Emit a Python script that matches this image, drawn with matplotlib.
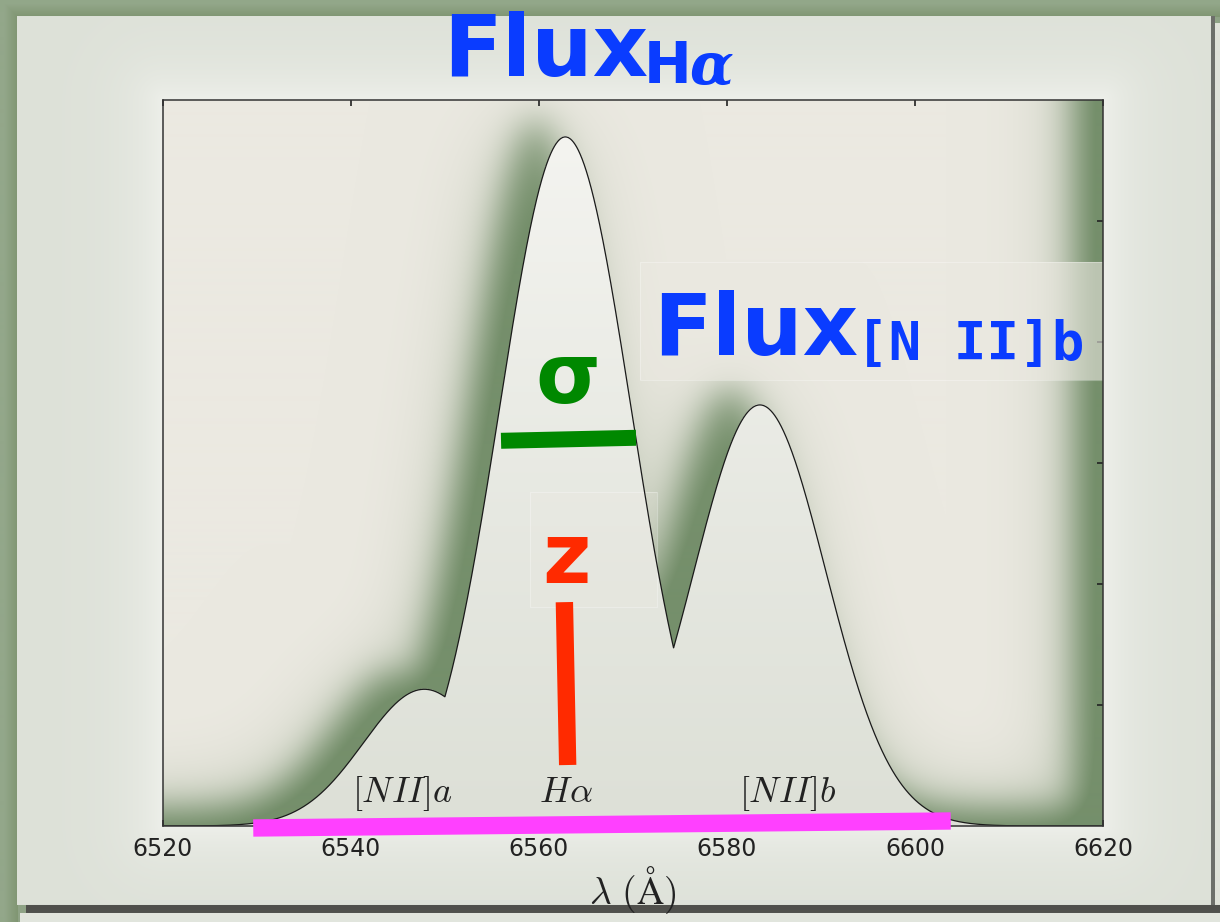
import numpy as np
import matplotlib
matplotlib.use("Agg")
import matplotlib.pyplot as plt
from matplotlib.patches import Rectangle

plt.rcParams["mathtext.fontset"] = "cm"

# emission lines in the window: [NII]a, H-alpha, [NII]b
LINE_NAMES = [r"$[NII]a$", r"$H\alpha$", r"$[NII]b$"]
LINE_CENTERS = [6547.8, 6562.8, 6583.5]
LINE_AMPS = [0.226, 1.139, 0.696]
LINE_SIGMAS = [6.5, 7.0, 7.0]
LABEL_X = [6545.5, 6562.9, 6586.5]
LABEL_Y = 0.04

WAVE_MIN, WAVE_MAX = 6520, 6620
X_TICKS = [6520, 6540, 6560, 6580, 6600, 6620]
Y_MAX = 1.2
Y_TICKS = [0.2, 0.4, 0.6, 0.8, 1.0]

# annotation bars: sigma (width), z (line position), wavelength span
SIGMA_BAR_X = [6555.96, 6570.32]
SIGMA_BAR_Y = [0.6367, 0.6417]
Z_BAR_X = [6562.7, 6563.05]
Z_BAR_Y = [0.370, 0.1008]
SPAN_BAR_X = [6529.6, 6603.8]
SPAN_BAR_Y = [-0.0033, 0.0083]

W, H = 1220, 922
AX_L, AX_R, AX_T, AX_B = 163, 1103, 100, 826

BLUE = "#0a3cff"
GREEN = "#008800"
RED = "#ff2a00"
MAGENTA = "#ff40ff"
INK = "#222222"


def rgb(h):
    h = h.lstrip("#")
    return np.array([int(h[i:i + 2], 16) for i in (0, 2, 4)]) / 255.0


def blur(a, s):
    r = int(3 * s)
    k = np.exp(-0.5 * (np.arange(-r, r + 1) / s) ** 2)
    k /= k.sum()
    a = np.apply_along_axis(lambda v: np.convolve(v, k, mode="same"), 0, a)
    a = np.apply_along_axis(lambda v: np.convolve(v, k, mode="same"), 1, a)
    return a


def profile(x):
    comps = [a * np.exp(-0.5 * ((x - c) / s) ** 2)
             for c, a, s in zip(LINE_CENTERS, LINE_AMPS, LINE_SIGMAS)]
    return np.max(comps, axis=0)


def mix(c0, c1, t):
    t = t[..., None]
    return c0 * (1 - t) + c1 * t


def px_to_ax(px, py):
    return (px - AX_L) / (AX_R - AX_L), (AX_B - py) / (AX_B - AX_T)


fig = plt.figure(figsize=(W / 100, H / 100), dpi=100)

# ---- paper frame behind everything
yy, xx = np.mgrid[0:H, 0:W].astype(float)
bg = np.ones((H, W, 3)) * rgb("#8fa386")
edge = (xx < 18) | (yy < 18)
bg[edge] = mix(rgb("#93a78a"), rgb("#7f9571"), np.clip((np.minimum(xx, yy) - 4) / 14, 0, 1))[edge]
paper = (xx >= 17) & (xx <= 1210) & (yy >= 17) & (yy <= 904)
dx = np.maximum.reduce([AX_L - xx, np.zeros_like(xx), xx - AX_R])
dy = np.maximum.reduce([AX_T - yy, np.zeros_like(yy), yy - AX_B])
glow = 0.75 * np.exp(-np.hypot(dx, dy) / 35.0)
frame = mix(np.broadcast_to(rgb("#dde1d8"), (H, W, 3)), rgb("#f3f4f0"), glow)
bg[paper] = frame[paper]
right_edge = (xx > 1210) & (xx <= 1214) & (yy >= 17) & (yy <= 908)
bg[right_edge] = rgb("#6d6f6a")
bg[(xx > 1214) & (yy >= 24)] = rgb("#dfe2d9")
bottom = (yy > 904) & (yy <= 912) & (xx >= 26)
bg[bottom] = rgb("#50514d")
bg[(yy > 912) & (xx >= 20)] = rgb("#e2e5dd")

bg_ax = fig.add_axes([0, 0, 1, 1], zorder=-1)
bg_ax.imshow(bg, extent=(0, W, H, 0), aspect="auto", interpolation="bilinear")
bg_ax.set_axis_off()

# ---- spectrum panel
ax = fig.add_axes([AX_L / W, 1 - AX_B / H, (AX_R - AX_L) / W, (AX_B - AX_T) / H])
ax.set_xlim(WAVE_MIN, WAVE_MAX)
ax.set_ylim(0, Y_MAX)

nx, ny = AX_R - AX_L, AX_B - AX_T
gx = WAVE_MIN + (np.arange(nx) + 0.5) / nx * (WAVE_MAX - WAVE_MIN)
gy = (np.arange(ny) + 0.5) / ny * Y_MAX
prof = profile(gx)
under = gy[:, None] < prof[None, :]

# raised region (under the curve, right of and below the frame) casts a soft shadow
P = 160
solid = np.zeros((ny + 2 * P, nx + 2 * P))
solid[P:P + ny, P:P + nx] = under
solid[:, P + nx:] = 1.0
solid[:P, :] = 1.0
solid = np.roll(solid, -30, axis=1)
solid = np.roll(solid, 18, axis=0)
shade = 0.75 * blur(solid, 17) + 0.45 * blur(solid, 42)
shade = np.clip(shade[P:P + ny, P:P + nx], 0, 1)

paper_col = np.broadcast_to(rgb("#ebe9e1"), (ny, nx, 3))
img = mix(paper_col, rgb("#758f6b"), shade)
t = np.clip(np.broadcast_to(gy[:, None] / 1.14, (ny, nx)), 0, 1)
inner = mix(np.broadcast_to(rgb("#dde0d7"), (ny, nx, 3)), rgb("#f4f4f0"), t ** 1.1)
img[under] = inner[under]

ax.imshow(img, extent=(WAVE_MIN, WAVE_MAX, 0, Y_MAX), origin="lower",
          aspect="auto", interpolation="bilinear", zorder=0)

wave = np.linspace(WAVE_MIN, WAVE_MAX, 4000)
ax.plot(wave, profile(wave), color="#1a1a1a", lw=0.9, zorder=3)

# faint label panels
for (x0, y0, x1, y1), a in [((640, 262, 1103, 380), 0.6), ((530, 492, 657, 607), 0.25)]:
    ax0, ay0 = px_to_ax(x0, y1)
    ax1, ay1 = px_to_ax(x1, y0)
    ax.add_patch(Rectangle((ax0, ay0), ax1 - ax0, ay1 - ay0, transform=ax.transAxes,
                           facecolor="#ebe9e1", alpha=a, edgecolor="none", zorder=2))
    ax.add_patch(Rectangle((ax0, ay0), ax1 - ax0, ay1 - ay0, transform=ax.transAxes,
                           facecolor="none", edgecolor="white", alpha=0.3, lw=0.8, zorder=2))

for name, lx in zip(LINE_NAMES, LABEL_X):
    ax.text(lx, LABEL_Y, name, fontsize=26, ha="center", va="baseline", color=INK, zorder=4)

ax.plot(SIGMA_BAR_X, SIGMA_BAR_Y, color=GREEN, lw=11.5, solid_capstyle="butt", zorder=5)
ax.plot(Z_BAR_X, Z_BAR_Y, color=RED, lw=12.5, solid_capstyle="butt", zorder=5)
ax.plot(SPAN_BAR_X, SPAN_BAR_Y, color=MAGENTA, lw=12.5, solid_capstyle="butt",
        zorder=6, clip_on=False)

ax.set_xticks(X_TICKS)
ax.set_yticks(Y_TICKS)
ax.tick_params(axis="x", direction="in", top=True, length=4, width=1.2,
               labelsize=17, labelcolor=INK, pad=8, color="#222222")
ax.tick_params(axis="y", direction="in", left=False, right=True, labelleft=False,
               length=4, width=1.2, color="#222222")
for s in ax.spines.values():
    s.set_color("#333333")
    s.set_linewidth(1.1)
    s.set_zorder(4)
ax.set_xlabel(r"$\lambda\ (\mathrm{\AA})$", fontsize=27, color=INK, labelpad=2)

# big parameter labels
def ftext(px, py, s, **kw):
    fig.text(px / W, 1 - py / H, s, va="baseline", ha="left", **kw)

ftext(443, 76, "Flux", fontsize=62, fontweight="bold", color=BLUE)
ftext(644, 83, "H", fontsize=41, fontweight="bold", color=BLUE)
ftext(689, 83, "α", fontsize=41, fontweight="bold", style="italic",
      family="DejaVu Serif", color=BLUE)
ftext(653, 355, "Flux", fontsize=62, fontweight="bold", color=BLUE)
ftext(856, 360, "[N II]b", fontsize=39, fontweight="bold",
      family="DejaVu Sans Mono", color=BLUE)
fig.text(568 / W, 1 - 403 / H, "σ", fontsize=60, fontweight="bold", color=GREEN,
         ha="center", va="baseline")
fig.text(566 / W, 1 - 583 / H, "z", fontsize=60, fontweight="bold", color=RED,
         ha="center", va="baseline")

fig.savefig("out.png", dpi=100)
